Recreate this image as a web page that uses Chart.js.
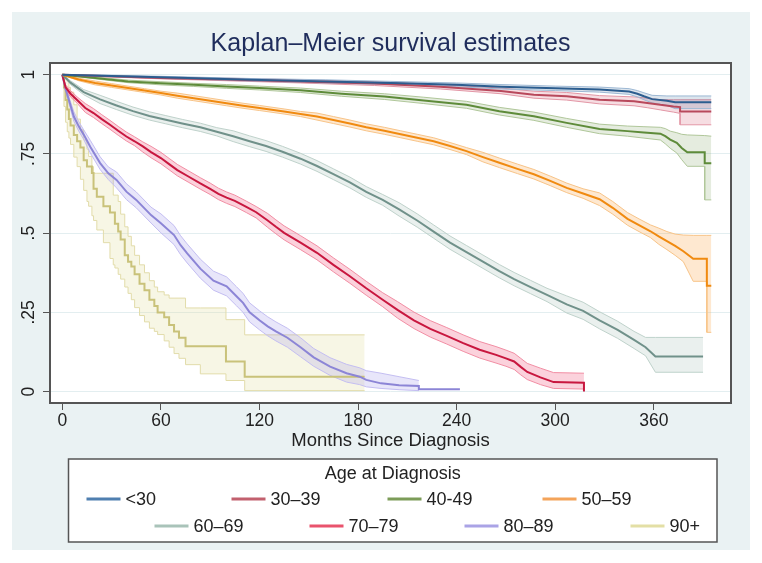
<!DOCTYPE html>
<html>
<head>
<meta charset="utf-8">
<script src="https://cdn.jsdelivr.net/npm/chart.js@4.4.1/dist/chart.umd.min.js"></script>
<style>
  html, body { margin: 0; padding: 0; background: #fff; }
  #wrap { position: absolute; left: 12px; top: 12px; width: 738px; height: 538px; background: #eaf2f3; }
</style>
</head>
<body>
<div id="wrap"><canvas id="km" width="738" height="538"></canvas></div>
<script>
// axis ticks
const xTicks = [0, 60, 120, 180, 240, 300, 360];
const yTicks = [0, 0.25, 0.5, 0.75, 1];
const yTickLabels = ['0', '.25', '.5', '.75', '1'];
const groupLabels = ['<30', '30–39', '40-49', '50–59', '60–69', '70–79', '80–89', '90+'];
const legendTitle = 'Age at Diagnosis';

// survival estimates with lower / upper confidence bounds
const t_lt30  = [0, 24, 60, 115, 160, 200, 240, 267, 300, 327, 345, 350, 354, 359, 368, 373, 395];
const s_lt30  = [1, .997, .992, .984, .979, .974, .968, .962, .957, .953, .947, .94, .932, .923, .918, .913, .913];
const lo_lt30 = [1, .995, .989, .98, .974, .969, .962, .955, .95, .945, .938, .93, .921, .911, .903, .893, .893];
const hi_lt30 = [1, .999, .995, .988, .984, .979, .974, .969, .964, .961, .956, .95, .943, .935, .933, .933, .933];

const t_30s  = [0, 24, 60, 100, 145, 190, 230, 267, 287, 307, 327, 348, 356, 364, 372, 376, 376, 395];
const s_30s  = [1, .996, .99, .985, .979, .972, .962, .949, .937, .932, .921, .916, .911, .905, .9, .898, .884, .884];
const lo_30s = [1, .994, .987, .981, .974, .966, .955, .94, .926, .92, .908, .902, .896, .889, .882, .878, .842, .842];
const hi_30s = [1, .998, .993, .989, .984, .978, .969, .958, .948, .944, .934, .93, .926, .921, .921, .921, .921, .921];

const t_40s  = [0, 20, 40, 60, 80, 100, 120, 145, 170, 196, 220, 246, 266, 287, 307, 327, 344, 354, 364, 367, 370, 374, 377, 380.4, 391, 391, 395];
const s_40s  = [1, .99, .979, .973, .968, .963, .958, .951, .94, .931, .919, .905, .885, .869, .848, .829, .822, .818, .814, .806, .795, .785, .769, .755, .755, .721, .721];
const lo_40s = [1, .987, .975, .968, .963, .957, .952, .944, .932, .922, .909, .894, .873, .856, .834, .814, .806, .8, .794, .782, .768, .753, .732, .711, .711, .605, .605];
const hi_40s = [1, .993, .983, .978, .973, .969, .964, .958, .948, .94, .929, .916, .897, .882, .862, .844, .838, .836, .834, .83, .822, .817, .812, .81, .808, .808, .806];

const t_50s  = [0, 10, 20, 30, 40, 50, 60, 70, 80, 90, 100, 110, 120, 135, 145, 155, 165, 175, 185, 196, 206, 216, 226, 236, 246, 256, 266, 277, 287, 297, 307, 317, 327, 335, 344, 351, 358, 363, 368, 373, 378, 384, 392.3, 392.3, 395];
const s_50s  = [1, .985, .974, .966, .958, .95, .942, .934, .926, .918, .91, .902, .895, .884, .876, .868, .857, .846, .834, .823, .812, .801, .79, .775, .759, .74, .722, .703, .686, .665, .643, .625, .607, .58, .545, .525, .506, .49, .475, .46, .443, .419, .419, .334, .334];
const lo_50s = [1, .981, .968, .96, .952, .944, .936, .926, .918, .91, .902, .894, .887, .876, .868, .857, .846, .835, .823, .812, .801, .79, .779, .764, .748, .725, .707, .688, .671, .65, .628, .61, .587, .56, .525, .505, .486, .465, .448, .43, .41, .348, .348, .187, .187];
const hi_50s = [1, .989, .98, .972, .964, .956, .948, .942, .934, .926, .918, .91, .903, .892, .884, .879, .868, .857, .845, .834, .823, .812, .801, .786, .77, .755, .737, .718, .701, .68, .658, .64, .627, .6, .565, .545, .526, .516, .505, .497, .494, .493, .493, .493, .493];

const t_60s  = [0, 5, 13, 23, 33, 43, 53, 63, 73, 84, 94, 104, 114, 124, 134, 145, 155, 165, 175, 185, 195, 205, 216, 226, 236, 246, 256, 266, 275, 285, 295, 307, 317, 327, 338, 348, 355, 361, 390];
const s_60s  = [1, .975, .945, .922, .903, .885, .87, .858, .846, .834, .82, .806, .79, .775, .757, .735, .712, .686, .66, .63, .605, .575, .54, .505, .47, .44, .41, .38, .355, .33, .305, .275, .255, .225, .195, .163, .14, .111, .111];
const lo_60s = [1, .969, .937, .909, .89, .872, .857, .845, .833, .821, .807, .789, .773, .758, .74, .718, .695, .669, .643, .613, .588, .554, .519, .484, .449, .419, .389, .359, .334, .309, .284, .248, .228, .198, .168, .136, .113, .061, .061];
const hi_60s = [1, .981, .953, .935, .916, .898, .883, .871, .859, .847, .833, .823, .807, .792, .774, .752, .729, .703, .677, .647, .622, .596, .561, .526, .491, .461, .431, .401, .376, .351, .326, .302, .282, .252, .222, .19, .171, .171, .171];

const t_70s  = [0, 2, 5, 9, 14, 19, 24, 29, 34, 39, 44, 49, 54, 60, 65, 70, 77, 84, 90, 95, 100, 105, 112, 118, 125, 130, 135, 145, 155, 165, 175, 185, 195, 204, 214, 224, 234, 244, 254, 264, 270, 275, 279, 283, 291, 299, 317.5, 317.5];
const s_70s  = [1, .96, .94, .92, .895, .879, .86, .842, .823, .805, .79, .774, .756, .737, .718, .699, .678, .657, .64, .624, .612, .602, .583, .566, .54, .52, .501, .47, .438, .40, .364, .326, .29, .258, .225, .198, .176, .153, .132, .116, .105, .095, .078, .062, .045, .03, .028, 0];
const lo_70s = [1, .952, .93, .91, .881, .865, .846, .828, .809, .791, .776, .756, .738, .719, .7, .681, .66, .639, .622, .606, .594, .584, .565, .548, .518, .498, .479, .448, .416, .378, .342, .304, .268, .232, .199, .172, .15, .127, .106, .09, .08, .07, .053, .038, .022, .01, .008, null];
const hi_70s = [1, .968, .95, .93, .909, .893, .874, .856, .837, .819, .804, .788, .774, .755, .736, .717, .696, .675, .658, .642, .63, .62, .601, .584, .562, .542, .523, .492, .46, .422, .386, .348, .312, .284, .251, .224, .202, .179, .158, .142, .131, .121, .105, .089, .074, .06, .058, null];

const t_80s  = [0, 2, 4, 7, 10, 13, 17, 23, 28, 33, 39, 45, 54, 60, 68, 72, 76, 84, 92, 100, 106, 110, 114, 120, 125, 130, 137, 145, 153, 163, 173, 181, 185, 194, 205, 217, 217, 242];
const s_80s  = [1, .955, .92, .868, .837, .811, .773, .721, .689, .668, .631, .605, .557, .531, .494, .462, .436, .388, .35, .332, .301, .28, .25, .225, .206, .19, .17, .14, .108, .079, .058, .047, .037, .026, .02, .018, .0075, .0075];
const lo_80s = [1, .945, .91, .853, .822, .796, .753, .701, .669, .643, .606, .58, .532, .501, .464, .432, .406, .358, .32, .302, .271, .25, .22, .195, .176, .16, .14, .11, .08, .051, .03, .022, .015, .01, .006, .003, .003, null];
const hi_80s = [1, .965, .93, .883, .852, .826, .793, .741, .709, .693, .656, .63, .582, .561, .524, .492, .466, .418, .38, .362, .331, .31, .28, .255, .236, .22, .2, .17, .136, .107, .086, .075, .066, .058, .047, .035, .035, null];

const t_90p  = [0, 1, 2, 3, 4, 5, 7, 9, 11, 13, 15, 16, 18, 19, 21, 25, 29, 31, 32, 34, 35.5, 38, 40, 42, 44, 47, 50, 53, 56, 58, 62, 65, 68, 71, 75, 84, 99.6, 111, 184];
const s_90p  = [1, .96, .92, .89, .86, .84, .81, .79, .77, .73, .71, .71, .69, .64, .615, .585, .565, .565, .53, .505, .48, .43, .41, .395, .37, .34, .32, .29, .27, .25, .235, .21, .19, .17, .143, .143, .095, .047, .047];
const lo_90p = [1, .9, .85, .82, .8, .78, .74, .71, .67, .635, .6, .585, .555, .54, .51, .47, .42, .40, .39, .37, .355, .33, .31, .29, .265, .24, .22, .2, .19, .18, .16, .14, .12, .105, .085, .056, .035, .003, .003];
const hi_90p = [1, 1, .99, .98, .96, .945, .905, .86, .826, .794, .765, .742, .71, .689, .689, .689, .689, .62, .62, .6, .56, .52, .49, .46, .43, .40, .375, .35, .33, .315, .305, .295, .295, .295, .264, .264, .227, .179, .179];

// styles
const lineColors   = ['#2c5d8f', '#b8495c', '#5e8b3a', '#f08a10', '#70918a', '#c8173f', '#8c85d6', '#c9c27a'];
const edgeColors   = ['#9db8d4', '#e397a6', '#b0c79a', '#f8c488', '#bfd2cb', '#f28ea4', '#c4bef2', '#e2dcaa'];
const bandColors   = ['rgba(44,93,143,0.16)', 'rgba(215,100,125,0.22)', 'rgba(110,150,80,0.18)', 'rgba(250,160,60,0.24)',
                      'rgba(130,165,155,0.17)', 'rgba(240,80,120,0.26)', 'rgba(160,150,235,0.24)', 'rgba(228,222,160,0.28)'];
const legendColors = ['#4f7fb0', '#c2606e', '#7c9c58', '#f4a45a', '#a9c3b9', '#e9536d', '#aaa3e6', '#e3dfa5'];
const steppedGroup = [false, false, false, false, false, false, false, true];
const legendCols   = [[18, 163, 319, 474], [86, 241, 396, 562]];

const series = [
  [t_lt30, s_lt30, lo_lt30, hi_lt30],
  [t_30s, s_30s, lo_30s, hi_30s],
  [t_40s, s_40s, lo_40s, hi_40s],
  [t_50s, s_50s, lo_50s, hi_50s],
  [t_60s, s_60s, lo_60s, hi_60s],
  [t_70s, s_70s, lo_70s, hi_70s],
  [t_80s, s_80s, lo_80s, hi_80s],
  [t_90p, s_90p, lo_90p, hi_90p],
];

const pts = (t, v) => t.map((x, i) => ({ x, y: v[i] }));

const datasets = [];
series.forEach(([t, s, lo, hi], i) => {
  const common = { pointRadius: 0, stepped: steppedGroup[i], tension: 0 };
  datasets.push({ ...common, label: groupLabels[i] + ' upper', data: pts(t, hi),
    borderColor: edgeColors[i], borderWidth: 1, fill: false, order: 2 });
  datasets.push({ ...common, label: groupLabels[i] + ' lower', data: pts(t, lo),
    borderColor: edgeColors[i], borderWidth: 1, backgroundColor: bandColors[i], fill: '-1', order: 2 });
  datasets.push({ ...common, label: groupLabels[i], data: pts(t, s),
    borderColor: lineColors[i], borderWidth: 2, fill: false, order: 1 });
});

const FONT = "'Liberation Sans', Arial, sans-serif";
Chart.defaults.font.family = FONT;

// white plot region and its frame
const plotFrame = {
  id: 'plotFrame',
  beforeDraw(chart) {
    const { ctx, chartArea: a } = chart;
    ctx.save();
    ctx.fillStyle = '#fff';
    ctx.fillRect(a.left, a.top, a.right - a.left, a.bottom - a.top);
    ctx.restore();
  },
  afterDatasetsDraw(chart) {
    const { ctx, chartArea: a } = chart;
    ctx.save();
    ctx.strokeStyle = '#555';
    ctx.lineWidth = 2;
    ctx.strokeRect(a.left, a.top, a.right - a.left, a.bottom - a.top);
    ctx.restore();
  }
};

// boxed legend laid out in columns
const legendBox = {
  id: 'legendBox',
  afterDraw(chart) {
    const { ctx, chartArea: a, scales: { x } } = chart;
    const left = a.left + 18.5, right = a.right - 14, top = x.bottom, h = 83;
    ctx.save();
    ctx.fillStyle = '#fff';
    ctx.fillRect(left, top, right - left, h);
    ctx.strokeStyle = '#555';
    ctx.lineWidth = 1.5;
    ctx.strokeRect(left, top, right - left, h);
    ctx.fillStyle = '#222';
    ctx.font = '18px ' + FONT;
    ctx.textAlign = 'center';
    ctx.textBaseline = 'middle';
    ctx.fillText(legendTitle, (left + right) / 2, top + 15);
    ctx.textAlign = 'left';
    groupLabels.forEach((lab, i) => {
      const row = Math.floor(i / 4), col = i % 4;
      const x0 = left + legendCols[row][col];
      const y0 = top + 40 + row * 27;
      ctx.strokeStyle = legendColors[i];
      ctx.lineWidth = 3;
      ctx.beginPath();
      ctx.moveTo(x0, y0);
      ctx.lineTo(x0 + 34, y0);
      ctx.stroke();
      ctx.fillText(lab, x0 + 39, y0 + 1);
    });
    ctx.restore();
  }
};

new Chart(document.getElementById('km'), {
  type: 'line',
  data: { datasets },
  plugins: [plotFrame, legendBox],
  options: {
    responsive: false,
    animation: false,
    events: [],
    layout: { padding: { left: 0, right: 19, top: 0, bottom: 91 } },
    scales: {
      x: {
        type: 'linear',
        min: -7.5,
        max: 407,
        afterBuildTicks: s => { s.ticks = xTicks.map(v => ({ value: v })); },
        afterFit: s => { s.height = 56; },
        ticks: { maxRotation: 0, autoSkip: false, padding: 1, color: '#222', font: { size: 17.5 },
                 callback: v => String(v) },
        grid: { drawOnChartArea: false, tickColor: '#555', tickLength: 7 },
        border: { display: false },
        title: { display: true, text: 'Months Since Diagnosis', color: '#222', font: { size: 18.5 },
                 padding: { top: 0, bottom: 6.6 } }
      },
      y: {
        min: -0.036,
        max: 1.037,
        afterBuildTicks: s => { s.ticks = yTicks.map(v => ({ value: v })); },
        afterFit: s => { s.width = 38; },
        ticks: { minRotation: 90, maxRotation: 90, crossAlign: 'center', padding: 2, color: '#222',
                 font: { size: 17.5 }, callback: (v, i) => yTickLabels[i] },
        grid: { color: '#e3eef0', tickColor: '#555', tickLength: 7 },
        border: { display: false }
      }
    },
    plugins: {
      legend: { display: false },
      tooltip: { enabled: false },
      title: {
        display: true,
        fullSize: false,
        text: 'Kaplan–Meier survival estimates',
        color: '#1f2d5c',
        font: { size: 25, weight: 'normal' },
        padding: { top: 17, bottom: 4 }
      }
    }
  }
});
</script>
</body>
</html>
